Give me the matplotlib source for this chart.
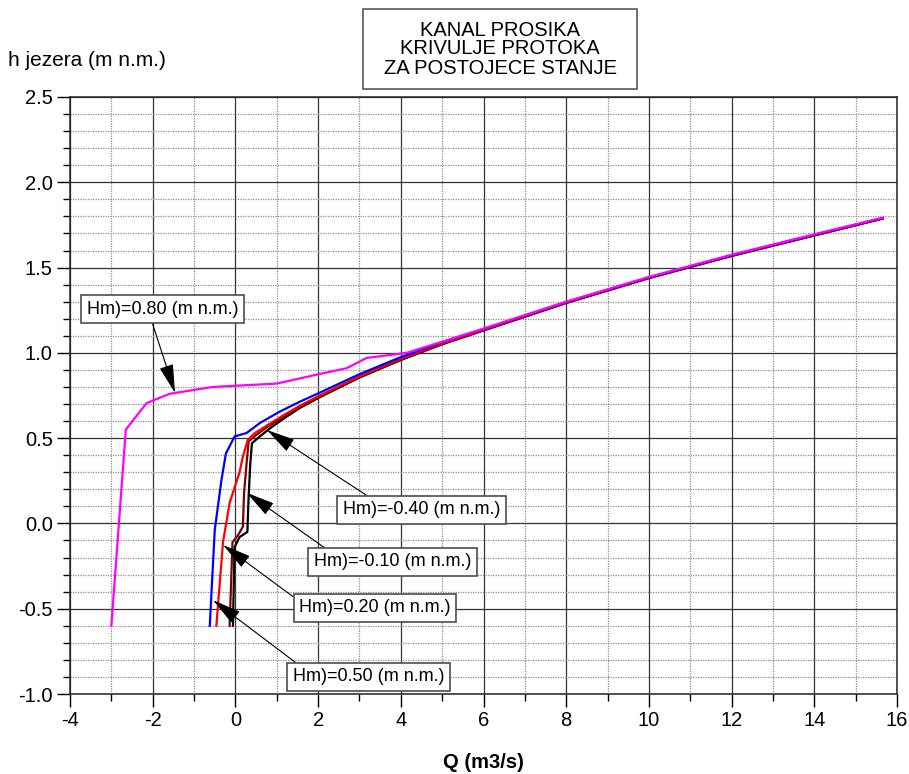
import matplotlib
matplotlib.use("Agg")
import matplotlib.pyplot as plt
from matplotlib.patches import Rectangle
from matplotlib.ticker import MultipleLocator, FormatStrFormatter

plt.rcParams['font.family'] = ['Liberation Sans', 'DejaVu Sans']
plt.rcParams['axes.unicode_minus'] = False

# ---------------------------------------
# Data (Q in m3/s, h in m n.m.)
# ---------------------------------------
q_080 = [-3.00, -2.65, -2.15, -1.59, -0.55, 1.00, 2.04, 2.69, 3.17, 4.14, 5.0, 6.0, 8.0, 10.0, 12.0, 14.0, 15.65]
h_080 = [-0.60, 0.55, 0.705, 0.76, 0.80, 0.82, 0.876, 0.91, 0.97, 1.00, 1.065, 1.142, 1.300, 1.445, 1.575, 1.695, 1.792]

q_050 = [-0.62, -0.50, -0.34, -0.23, -0.02, 0.27, 0.60, 1.07, 1.56, 2.0, 3.0, 4.0, 5.0, 6.0, 8.0, 10.0, 12.0, 14.0, 15.65]
h_050 = [-0.60, -0.04, 0.25, 0.41, 0.51, 0.53, 0.59, 0.655, 0.714, 0.762, 0.875, 0.975, 1.063, 1.140, 1.298, 1.442, 1.572, 1.692, 1.790]

q_020 = [-0.46, -0.30, -0.14, 0.10, 0.18, 0.30, 0.47, 0.80, 1.20, 1.56, 2.0, 3.0, 4.0, 5.0, 6.0, 8.0, 10.0, 12.0, 14.0, 15.65]
h_020 = [-0.60, -0.11, 0.12, 0.30, 0.39, 0.49, 0.53, 0.58, 0.64, 0.69, 0.745, 0.862, 0.965, 1.055, 1.135, 1.295, 1.440, 1.570, 1.690, 1.788]

q_m010 = [-0.14, -0.07, 0.06, 0.18, 0.21, 0.27, 0.32, 0.51, 0.80, 1.20, 1.56, 2.0, 3.0, 4.0, 5.0, 6.0, 8.0, 10.0, 12.0, 14.0, 15.65]
h_m010 = [-0.60, -0.11, -0.07, -0.02, 0.18, 0.35, 0.48, 0.52, 0.57, 0.63, 0.682, 0.740, 0.858, 0.962, 1.053, 1.133, 1.294, 1.439, 1.569, 1.689, 1.788]

q_m040 = [-0.06, -0.02, 0.10, 0.29, 0.32, 0.36, 0.40, 0.59, 0.85, 1.20, 1.56, 2.0, 3.0, 4.0, 5.0, 6.0, 8.0, 10.0, 12.0, 14.0, 15.65]
h_m040 = [-0.60, -0.14, -0.08, -0.05, 0.16, 0.35, 0.47, 0.51, 0.56, 0.62, 0.677, 0.735, 0.855, 0.958, 1.050, 1.131, 1.292, 1.438, 1.568, 1.688, 1.787]

labels = ["Hm)=0.80 (m n.m.)", "Hm)=0.50 (m n.m.)", "Hm)=0.20 (m n.m.)",
          "Hm)=-0.10 (m n.m.)", "Hm)=-0.40 (m n.m.)"]
colors = ["#ff00ff", "#0000ff", "#ff0000", "#800000", "#000000"]

# arrow tips (on the curves) and label box centres, data coords
tip_q = [-1.46, -0.54, -0.30, 0.27, 0.76]
tip_h = [0.765, -0.45, -0.126, 0.18, 0.548]
lab_q = [-1.76, 3.22, 3.37, 3.80, 4.50]
lab_h = [1.257, -0.90, -0.495, -0.226, 0.079]
relpos = [(0.42, 0.0), (0.07, 1.0), (0.0, 0.9), (0.12, 1.0), (0.21, 1.0)]

series = [(q_080, h_080), (q_050, h_050), (q_020, h_020), (q_m010, h_m010), (q_m040, h_m040)]

# ---------------------------------------
# Figure
# ---------------------------------------
fig = plt.figure(figsize=(9.09, 7.74), dpi=100)
ax = fig.add_axes([70 / 909, 80 / 774, 827 / 909, 597 / 774])

for i in [4, 3, 2, 1, 0]:
    q, h = series[i]
    ax.plot(q, h, color=colors[i], lw=1.6, zorder=3 + (4 - i) * 0.1)

ax.set_xlim(-4, 16)
ax.set_ylim(-1.0, 2.5)
ax.xaxis.set_major_locator(MultipleLocator(2))
ax.xaxis.set_minor_locator(MultipleLocator(1))
ax.yaxis.set_major_locator(MultipleLocator(0.5))
ax.yaxis.set_minor_locator(MultipleLocator(0.1))
ax.yaxis.set_major_formatter(FormatStrFormatter('%.1f'))

ax.grid(which='major', color='0.2', lw=0.9, ls='-', zorder=1)
ax.grid(which='minor', color='0.55', lw=0.9, ls=(0, (1, 1)), zorder=1)
ax.set_axisbelow(True)

ax.tick_params(which='major', direction='out', length=9.5, width=1, labelsize=14.5, pad=3)
ax.tick_params(which='minor', direction='out', length=5, width=1)
for s in ax.spines.values():
    s.set_color('0.15')
    s.set_linewidth(1.1)

ax.set_xlabel("Q (m3/s)", fontsize=14.5, fontweight='bold', labelpad=16)

for i in range(5):
    ax.annotate(labels[i], xy=(tip_q[i], tip_h[i]), xytext=(lab_q[i], lab_h[i]),
                textcoords='data', ha='center', va='center', fontsize=13, zorder=10,
                annotation_clip=False,
                bbox=dict(boxstyle='square,pad=0.3', fc='white', ec='0.3', lw=1.2),
                arrowprops=dict(arrowstyle='-|>,head_length=0.9,head_width=0.22',
                                mutation_scale=20, color='black', lw=0.8,
                                shrinkA=0, shrinkB=0, relpos=relpos[i]))

fig.text(8 / 909, 1 - 61 / 774, "h jezera (m n.m.)", fontsize=15, ha='left', va='center')

# title box
fig.patches.append(Rectangle((363 / 909, 1 - 89 / 774), 274 / 909, 80 / 774,
                             transform=fig.transFigure, fill=False, ec='0.35', lw=1.2))
fig.text(500 / 909, 1 - 49 / 774, "KANAL PROSIKA\nKRIVULJE PROTOKA\nZA POSTOJECE STANJE",
         fontsize=14.5, ha='center', va='center', linespacing=1.0)

fig.savefig("out.png", dpi=100)
